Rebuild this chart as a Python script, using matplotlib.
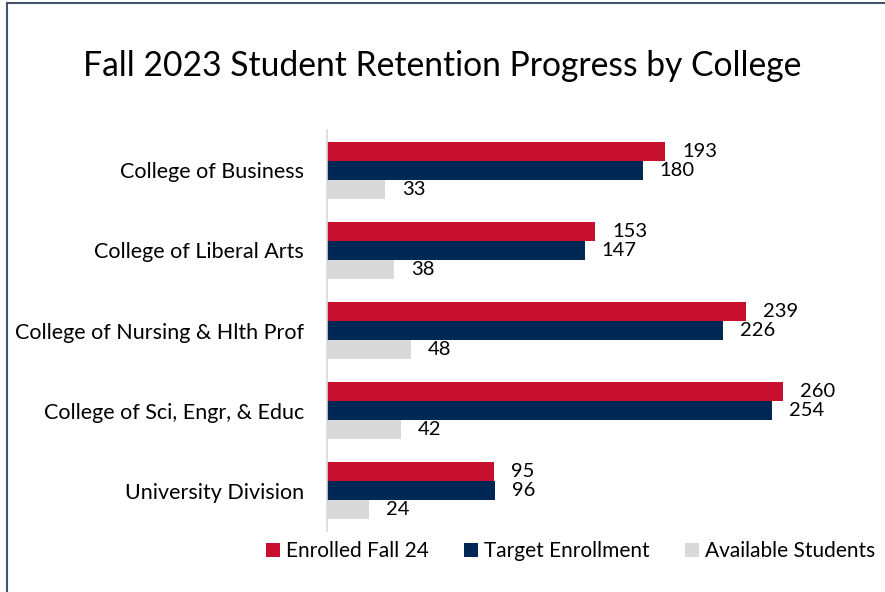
import numpy as np
from matplotlib import pyplot as plt
from matplotlib.lines import Line2D

colleges = ["College of Business", "College of Liberal Arts",
            "College of Nursing & Hlth Prof", "College of Sci, Engr, & Educ",
            "University Division"]
enrolled = [193, 153, 239, 260, 95]
target = [180, 147, 226, 254, 96]
available = [33, 38, 48, 42, 24]
series_names = ["Enrolled Fall 24", "Target Enrollment", "Available Students"]

RED = "#C8102E"
NAVY = "#002855"
GRAY = "#D9D9D9"


def main():
    plt.rcParams['font.family'] = ['Lato', 'DejaVu Sans']

    fig = plt.figure(figsize=(8.85, 5.92), dpi=100)
    ax = fig.add_axes([0.3695, 0.103, 0.5945, 0.677])

    y = np.arange(len(colleges))
    h = 0.237
    series = [enrolled, target, available]
    colors = [RED, NAVY, GRAY]
    for i, (vals, col, name) in enumerate(zip(series, colors, series_names)):
        bars = ax.barh(y + (i - 1) * h, vals, height=h, color=col, label=name)
        for b, v in zip(bars, vals):
            ax.annotate(str(v), (b.get_width(), b.get_y() + b.get_height() / 2),
                        xytext=(17, 0), textcoords="offset pixels",
                        ha="left", va="center", fontsize=14.5, color="black")

    ax.set_xlim(0, 300)
    ax.set_ylim(len(colleges) - 0.5, -0.5)
    ax.set_yticks(y)
    ax.set_yticklabels(colleges, fontsize=15.5)
    ax.tick_params(axis="y", length=0, pad=16.5)
    ax.set_xticks([])
    for s in ["top", "right", "bottom"]:
        ax.spines[s].set_visible(False)
    ax.spines["left"].set_color("#D9D9D9")
    ax.spines["left"].set_linewidth(1.2)

    fig.text(0.5, 0.888, "Fall 2023 Student Retention Progress by College",
             ha="center", va="center", fontsize=24.2)

    fig.legend(loc="center", bbox_to_anchor=(0.645, 0.069), ncol=3, frameon=False,
               fontsize=15, handlelength=0.65, handleheight=0.65, handletextpad=0.3,
               columnspacing=1.7)

    # chart border (left and top visible)
    fig.add_artist(Line2D([0.008, 0.008], [0, 0.995], color="#44546A", lw=1.5,
                          transform=fig.transFigure))
    fig.add_artist(Line2D([0.008, 1], [0.995, 0.995], color="#44546A", lw=1.5,
                          transform=fig.transFigure))

    fig.savefig("out.png", dpi=100)


if __name__ == "__main__":
    main()
